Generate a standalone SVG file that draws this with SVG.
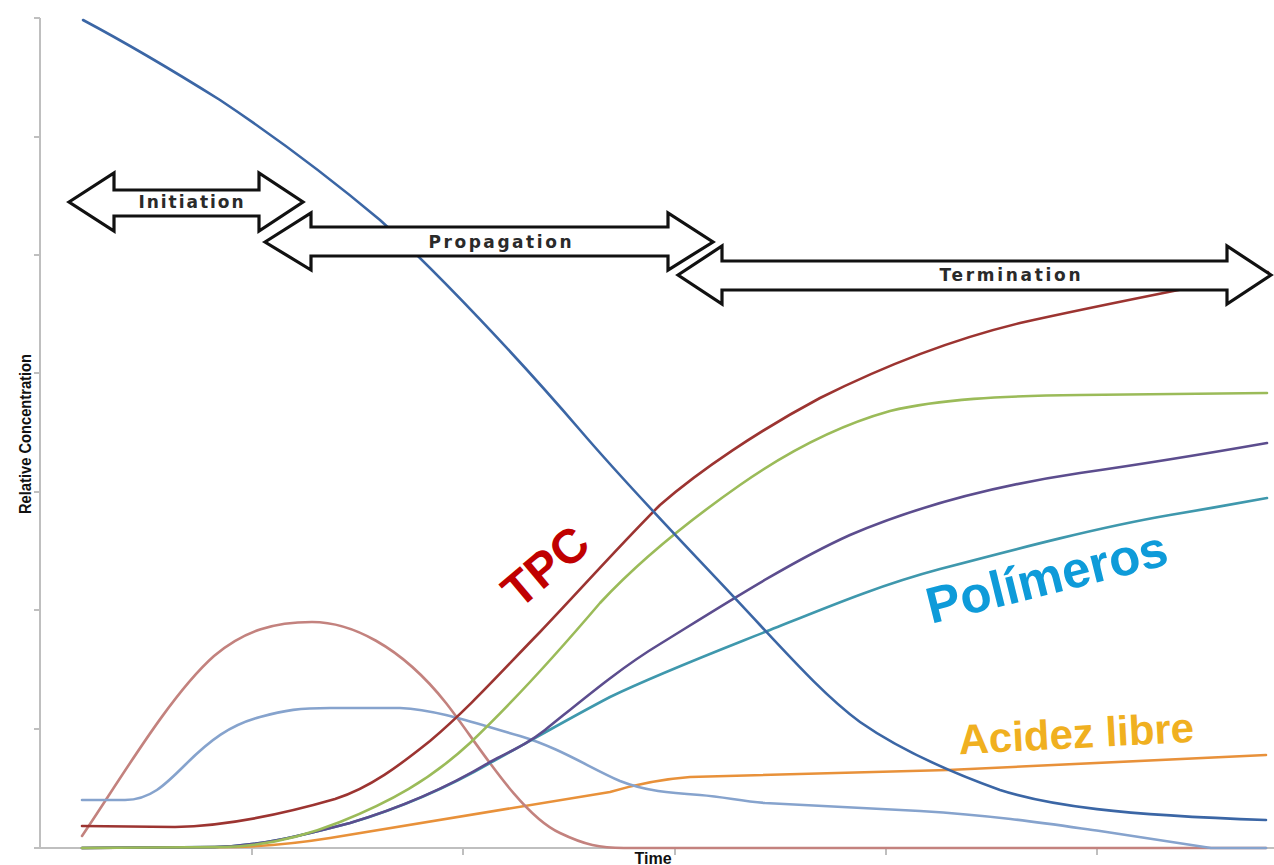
<svg xmlns="http://www.w3.org/2000/svg" width="1274" height="865" viewBox="0 0 1274 865">
<style>
.axis{stroke:#bfbfbf;stroke-width:2;fill:none}
.curve{fill:none;stroke-width:2.6;stroke-linejoin:round;stroke-linecap:round}
.arrow{fill:#fff;stroke:#111;stroke-width:3.2;stroke-linejoin:miter}
.phase{font-family:"DejaVu Sans",sans-serif;font-weight:bold;font-size:17px;fill:#2a2a2a;text-anchor:middle}
.lbl{font-family:"Liberation Sans",Arial,sans-serif;font-weight:bold;text-anchor:middle}
</style>
<rect width="1274" height="865" fill="#fff"/>
<g id="axes">
<path class="axis" d="M40,18 V848 H1274"/>
<path class="axis" d="M34,18 H40 M34,137 H40 M34,255 H40 M34,373 H40 M34,492 H40 M34,610 H40 M34,729 H40 M34,848 H40"/>
<path class="axis" d="M252,848 V855 M463,848 V855 M675,848 V855 M886,848 V855 M1097,848 V855"/>
<text transform="translate(31,434) rotate(-90)" text-anchor="middle" font-family="'Liberation Sans Narrow','Liberation Sans',sans-serif" font-weight="bold" font-size="16" textLength="160" lengthAdjust="spacingAndGlyphs" fill="#111">Relative Concentration</text>
<text x="653" y="864" text-anchor="middle" font-family="'Liberation Sans',sans-serif" font-weight="bold" font-size="16" fill="#111">Time</text>
</g>
<g id="curves">
<path id="c-orange" class="curve" stroke="#e8913a" d="M82,848 L235,847 Q280,846 330,838 L610,792 Q650,780 690,777 L948,770 L1266,755"/>
<path id="c-pink" class="curve" stroke="#c3827e" d="M82,836 C120,780 170,695 214,656 C245,630 275,622 312,622 C350,622 400,645 446,703 C476,741 520,815 560,833 C585,845 600,848 624,848 L1266,848"/>
<path id="c-lightblue" class="curve" stroke="#86a3cd" d="M82,800 L125,800 C150,800 165,785 185,765 C210,740 230,725 260,717 C285,710 300,708 330,708 L400,708 C440,710 480,725 520,736 C560,748 590,768 620,781 C645,791 670,793 700,795 C725,797 740,801 765,803 L920,811 C1000,816 1050,824 1100,831 L1211,848 L1266,848"/>
<path id="c-teal" class="curve" stroke="#3f98ad" d="M82,848 L215,847 C260,846 300,836 350,823 C400,808 450,786 490,763 C530,741 570,718 610,697 C660,673 720,650 770,630 C830,606 880,585 940,569 C1020,548 1100,527 1170,515 C1200,510 1240,503 1267,498"/>
<path id="c-purple" class="curve" stroke="#5c4d8e" d="M82,848 L215,847 C260,846 300,836 350,823 C400,808 450,786 490,762 C515,749 530,742 545,730 C580,702 620,668 660,644 C720,607 790,562 850,535 C920,505 1000,485 1080,473 C1150,463 1210,453 1267,443"/>
<path id="c-green" class="curve" stroke="#9bbb59" d="M82,848 L225,847 C260,846 300,838 340,822 C390,802 430,780 470,743 C510,705 560,650 600,603 C640,560 690,520 740,485 C790,450 840,425 890,411 C940,399 1000,396 1080,395 L1267,393"/>
<path id="c-red" class="curve" stroke="#9c3431" d="M82,826 L175,827 C230,826 290,812 335,799 C370,788 400,765 430,741 C470,707 500,673 540,632 C580,590 620,545 660,505 C700,470 760,430 820,398 C880,368 950,340 1020,323 C1100,305 1180,290 1268,272"/>
<path id="c-blue" class="curve" stroke="#3b66a5" d="M83,20 C130,45 180,75 220,100 C280,140 330,178 380,220 C440,275 520,360 580,430 C640,500 700,560 760,625 C800,668 830,700 860,722 C900,750 950,772 1000,790 C1050,806 1120,815 1266,820"/>
</g>
<g id="phase-initiation">
<path class="arrow" d="M69,202 L114,173 L114,190 L259,190 L259,173 L303,202 L259,231 L259,216 L114,216 L114,231 Z"/>
<text class="phase" x="191" y="208" textLength="105" lengthAdjust="spacing">Initiation</text>
</g>
<g id="phase-propagation">
<path class="arrow" d="M265,242 L311,213 L311,227 L668,227 L668,213 L713,242 L668,270 L668,256 L311,256 L311,270 Z"/>
<text class="phase" x="500" y="248" textLength="143" lengthAdjust="spacing">Propagation</text>
</g>
<g id="phase-termination">
<path class="arrow" d="M678,275 L722,246 L722,261 L1227,261 L1227,246 L1271,275 L1227,304 L1227,290 L722,290 L722,304 Z"/>
<text class="phase" x="1010" y="281" textLength="141" lengthAdjust="spacing">Termination</text>
</g>
<g id="labels">
<text class="lbl" transform="translate(545,566) rotate(-40)" y="17" font-size="48" fill="#c00000">TPC</text>
<text class="lbl" transform="translate(1051,594) rotate(-14)" font-size="51" fill="#0e9bd9">Polímeros</text>
<text class="lbl" transform="translate(1077,748) rotate(-3)" font-size="42" fill="#f0b020">Acidez libre</text>
</g>
</svg>
